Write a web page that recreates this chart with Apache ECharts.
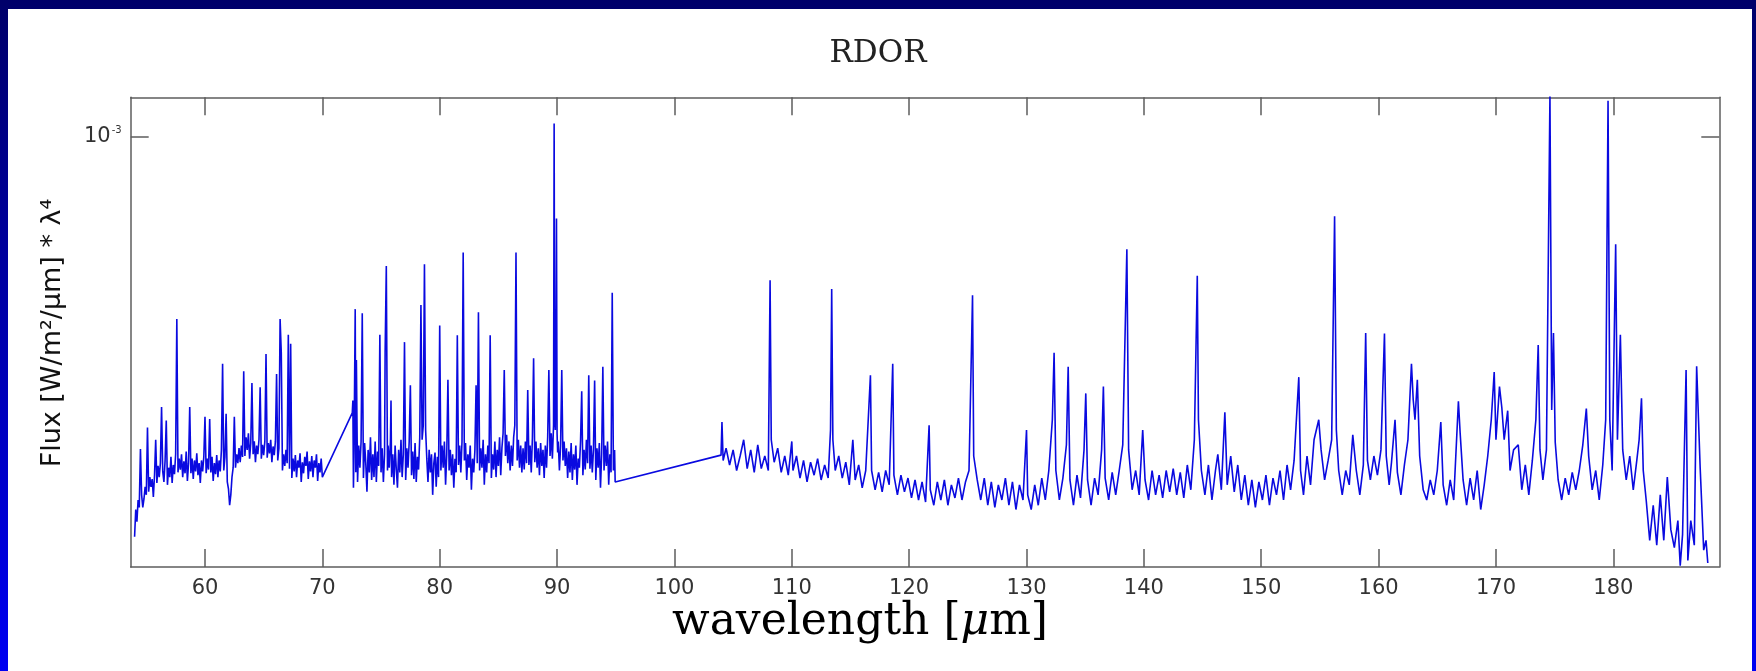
<!DOCTYPE html>
<html><head><meta charset="utf-8">
<script src="https://cdn.jsdelivr.net/npm/echarts@6/dist/echarts.min.js"></script>
<style>
html,body{margin:0;padding:0;width:1756px;height:671px;overflow:hidden;
background:linear-gradient(to bottom,#00006a 0%,#0000f2 100%);}
#panel{position:absolute;left:8px;top:9px;width:1744px;height:662px;background:#fff;}
#chart{position:absolute;left:0;top:0;width:1756px;height:671px;}
</style></head><body><div id="panel"></div><div id="chart"></div>
<script>
// wavelength [um], flux
const seg1 = [
[54.0,2.24e-4],[54.1,2.48e-4],[54.2,2.37e-4],[54.3,2.57e-4],[54.4,2.50e-4],[54.5,3.11e-4],[54.6,2.62e-4],[54.7,2.50e-4],[54.8,2.58e-4],[54.9,2.70e-4],
[55.0,2.62e-4],[55.1,3.37e-4],[55.2,2.65e-4],[55.3,2.80e-4],[55.4,2.70e-4],[55.5,2.78e-4],[55.6,2.60e-4],[55.7,2.82e-4],[55.8,3.22e-4],[55.9,2.74e-4],
[56.0,2.92e-4],[56.1,2.80e-4],[56.2,2.95e-4],[56.3,3.64e-4],[56.4,2.86e-4],[56.5,2.75e-4],[56.6,2.98e-4],[56.7,3.46e-4],[56.8,2.72e-4],[56.9,2.90e-4],
[57.0,2.80e-4],[57.1,3.02e-4],[57.2,2.74e-4],[57.3,2.93e-4],[57.4,2.83e-4],[57.5,3.05e-4],[57.6,5.06e-4],[57.7,2.85e-4],[57.8,3.00e-4],[57.9,2.88e-4],
[58.0,3.05e-4],[58.1,2.80e-4],[58.2,2.97e-4],[58.3,2.84e-4],[58.4,3.08e-4],[58.5,2.76e-4],[58.6,2.95e-4],[58.7,3.64e-4],[58.8,2.84e-4],[58.9,3.00e-4],
[59.0,2.78e-4],[59.1,2.98e-4],[59.2,2.86e-4],[59.3,3.06e-4],[59.4,2.82e-4],[59.5,2.95e-4],[59.6,2.74e-4],[59.7,2.98e-4],[59.8,2.86e-4],[59.9,3.02e-4],
[60.0,3.51e-4],[60.1,2.84e-4],[60.2,3.00e-4],[60.3,2.88e-4],[60.4,3.48e-4],[60.5,2.85e-4],[60.6,3.02e-4],[60.7,2.76e-4],[60.8,2.95e-4],[60.9,2.83e-4],
[61.0,3.04e-4],[61.1,2.80e-4],[61.2,2.98e-4],[61.3,2.86e-4],[61.4,3.10e-4],[61.5,4.28e-4],[61.6,2.87e-4],[61.7,3.02e-4],[61.8,3.55e-4],[61.9,2.75e-4],
[62.0,2.68e-4],[62.1,2.52e-4],[62.2,2.62e-4],[62.3,2.80e-4],[62.4,2.90e-4],[62.5,3.51e-4],[62.6,2.90e-4],[62.7,3.05e-4],[62.8,2.95e-4],[62.9,3.12e-4],
[63.0,2.96e-4],[63.1,3.15e-4],[63.2,3.02e-4],[63.3,4.16e-4],[63.4,3.03e-4],[63.5,3.25e-4],[63.6,3.10e-4],[63.7,3.30e-4],[63.8,3.00e-4],[63.9,3.18e-4],
[64.0,3.98e-4],[64.1,3.05e-4],[64.2,3.20e-4],[64.3,2.96e-4],[64.4,3.15e-4],[64.5,3.05e-4],[64.6,3.22e-4],[64.7,3.92e-4],[64.8,3.00e-4],[64.9,3.16e-4],
[65.0,3.04e-4],[65.1,3.20e-4],[65.2,4.44e-4],[65.3,3.01e-4],[65.4,3.18e-4],[65.5,3.06e-4],[65.6,3.22e-4],[65.7,2.96e-4],[65.8,3.14e-4],[65.9,3.04e-4],
[66.0,3.20e-4],[66.1,4.12e-4],[66.2,2.98e-4],[66.3,3.12e-4],[66.4,5.06e-4],[66.5,4.46e-4],[66.6,2.87e-4],[66.7,3.05e-4],[66.8,2.92e-4],[66.9,3.10e-4],
[67.0,2.95e-4],[67.1,4.77e-4],[67.2,2.89e-4],[67.3,4.61e-4],[67.4,2.79e-4],[67.5,3.00e-4],[67.6,2.86e-4],[67.7,3.04e-4],[67.8,2.80e-4],[67.9,2.98e-4],
[68.0,2.90e-4],[68.1,3.06e-4],[68.2,2.75e-4],[68.3,2.96e-4],[68.4,2.84e-4],[68.5,3.02e-4],[68.6,2.92e-4],[68.7,3.08e-4],[68.8,2.78e-4],[68.9,2.97e-4],
[69.0,2.86e-4],[69.1,3.03e-4],[69.2,2.80e-4],[69.3,2.98e-4],[69.4,2.90e-4],[69.5,3.05e-4],[69.6,2.76e-4],[69.7,2.95e-4],[69.8,2.85e-4],[69.9,3.00e-4],
[70.0,2.80e-4]
];
const seg2 = [
[72.55,3.56e-4],[72.60,3.73e-4],[72.65,2.69e-4],[72.70,3.10e-4],[72.80,5.25e-4],[72.85,2.85e-4],[72.90,4.34e-4],[73.00,2.75e-4],[73.10,3.15e-4],[73.20,2.90e-4],
[73.30,3.20e-4],[73.40,5.17e-4],[73.50,2.79e-4],[73.60,3.18e-4],[73.70,2.95e-4],[73.80,2.65e-4],[73.90,3.10e-4],[74.00,2.85e-4],[74.10,3.25e-4],[74.20,2.77e-4],
[74.30,3.05e-4],[74.40,2.80e-4],[74.50,3.20e-4],[74.60,2.75e-4],[74.70,3.08e-4],[74.80,2.92e-4],[74.90,4.77e-4],[75.00,2.85e-4],[75.10,3.12e-4],[75.20,2.75e-4],
[75.30,3.05e-4],[75.35,4.47e-4],[75.45,6.17e-4],[75.55,2.87e-4],[75.60,3.15e-4],[75.70,2.90e-4],[75.80,3.20e-4],[75.85,3.73e-4],[75.90,2.80e-4],[76.00,3.05e-4],
[76.10,2.72e-4],[76.20,3.15e-4],[76.30,2.88e-4],[76.40,2.69e-4],[76.50,3.10e-4],[76.60,2.85e-4],[76.70,3.22e-4],[76.80,2.80e-4],[76.90,3.05e-4],[77.00,4.64e-4],
[77.10,2.77e-4],[77.20,3.12e-4],[77.30,2.90e-4],[77.40,3.20e-4],[77.50,3.95e-4],[77.60,2.82e-4],[77.70,3.08e-4],[77.80,2.78e-4],[77.90,3.18e-4],[78.00,2.75e-4],
[78.10,3.02e-4],[78.20,2.88e-4],[78.30,3.25e-4],[78.40,5.33e-4],[78.50,3.22e-4],[78.60,3.40e-4],[78.70,6.21e-4],[78.80,3.34e-4],[78.90,3.00e-4],[79.00,2.75e-4],
[79.10,3.10e-4],[79.20,2.85e-4],[79.30,3.05e-4],[79.40,2.62e-4],[79.50,2.95e-4],[79.60,3.07e-4],[79.70,2.70e-4],[79.80,3.02e-4],[79.90,2.80e-4],[80.00,4.94e-4],
[80.10,2.87e-4],[80.20,3.15e-4],[80.30,2.90e-4],[80.40,3.20e-4],[80.50,2.72e-4],[80.60,3.05e-4],[80.70,4.03e-4],[80.80,2.87e-4],[80.90,3.10e-4],[81.00,2.82e-4],
[81.10,3.05e-4],[81.20,2.69e-4],[81.30,3.00e-4],[81.40,2.85e-4],[81.50,4.76e-4],[81.60,2.93e-4],[81.70,3.15e-4],[81.80,2.85e-4],[81.90,3.20e-4],[82.00,6.49e-4],
[82.10,2.98e-4],[82.20,3.18e-4],[82.30,2.77e-4],[82.40,3.05e-4],[82.50,2.90e-4],[82.60,3.15e-4],[82.70,2.67e-4],[82.80,3.00e-4],[82.90,2.85e-4],[83.00,3.10e-4],
[83.10,3.95e-4],[83.20,2.95e-4],[83.30,5.19e-4],[83.40,2.87e-4],[83.50,3.12e-4],[83.60,2.90e-4],[83.70,3.22e-4],[83.80,2.72e-4],[83.90,3.05e-4],[84.00,2.85e-4],
[84.10,3.15e-4],[84.20,2.95e-4],[84.30,4.76e-4],[84.40,2.79e-4],[84.50,3.05e-4],[84.60,2.88e-4],[84.70,3.20e-4],[84.80,2.80e-4],[84.90,3.10e-4],[85.00,2.92e-4],
[85.10,3.25e-4],[85.20,2.82e-4],[85.30,3.12e-4],[85.40,3.30e-4],[85.50,4.18e-4],[85.60,3.03e-4],[85.70,3.28e-4],[85.80,2.95e-4],[85.90,3.20e-4],[86.00,2.87e-4],
[86.10,3.15e-4],[86.20,2.92e-4],[86.30,3.25e-4],[86.40,3.40e-4],[86.50,6.49e-4],[86.60,2.98e-4],[86.70,3.22e-4],[86.80,2.90e-4],[86.90,3.15e-4],[87.00,2.85e-4],
[87.10,3.12e-4],[87.20,2.88e-4],[87.30,3.20e-4],[87.40,2.95e-4],[87.50,3.88e-4],[87.60,2.93e-4],[87.70,3.15e-4],[87.80,2.85e-4],[87.90,3.25e-4],[88.00,4.37e-4],
[88.10,2.96e-4],[88.20,3.20e-4],[88.30,2.90e-4],[88.40,3.12e-4],[88.50,2.82e-4],[88.60,3.18e-4],[88.70,2.92e-4],[88.80,3.10e-4],[88.90,2.79e-4],[89.00,3.15e-4],
[89.10,2.90e-4],[89.20,3.25e-4],[89.30,4.18e-4],[89.40,3.03e-4],[89.50,3.30e-4],[89.60,3.00e-4],[89.70,3.40e-4],[89.75,10.52e-4],[89.80,3.50e-4],[89.85,3.34e-4],
[89.90,4.20e-4],[89.95,7.37e-4],[90.00,3.30e-4],[90.05,3.07e-4],[90.10,3.20e-4],[90.20,2.87e-4],[90.30,3.15e-4],[90.40,4.18e-4],[90.50,2.98e-4],[90.60,3.20e-4],
[90.70,2.92e-4],[90.80,3.12e-4],[90.90,2.79e-4],[91.00,3.08e-4],[91.10,2.85e-4],[91.20,3.18e-4],[91.30,2.77e-4],[91.40,3.05e-4],[91.50,2.88e-4],[91.60,3.15e-4],
[91.70,2.72e-4],[91.80,3.00e-4],[91.90,2.90e-4],[92.00,3.20e-4],[92.10,3.86e-4],[92.20,2.82e-4],[92.30,3.10e-4],[92.40,2.88e-4],[92.50,3.22e-4],[92.60,2.95e-4],
[92.70,4.10e-4],[92.80,2.89e-4],[92.90,3.15e-4],[93.00,2.85e-4],[93.10,3.10e-4],[93.20,4.02e-4],[93.30,2.77e-4],[93.40,3.12e-4],[93.50,2.90e-4],[93.60,3.18e-4],
[93.70,2.69e-4],[93.80,3.05e-4],[93.90,4.23e-4],[94.00,2.87e-4],[94.10,3.15e-4],[94.20,2.92e-4],[94.30,3.20e-4],[94.40,2.72e-4],[94.50,3.05e-4],[94.60,2.85e-4],
[94.70,5.58e-4],[94.80,2.87e-4],[94.90,3.10e-4],[94.95,2.75e-4]
];
const seg3 = [
[103.97,3.04e-4],[104.05,3.44e-4],[104.15,2.98e-4],[104.40,3.12e-4],[104.70,2.93e-4],[105.00,3.10e-4],[105.30,2.87e-4],[105.60,3.03e-4],
[105.90,3.22e-4],[106.20,2.89e-4],[106.50,3.10e-4],[106.80,2.85e-4],[107.10,3.16e-4],[107.40,2.89e-4],[107.70,3.03e-4],[108.00,2.87e-4],
[108.15,5.85e-4],[108.25,3.22e-4],[108.50,2.96e-4],[108.80,3.12e-4],[109.10,2.85e-4],[109.40,3.03e-4],[109.70,2.82e-4],[110.00,3.20e-4],
[110.10,2.87e-4],[110.40,3.03e-4],[110.70,2.79e-4],[111.00,2.98e-4],[111.30,2.75e-4],[111.60,2.96e-4],[111.90,2.82e-4],[112.20,3.00e-4],
[112.50,2.77e-4],[112.80,2.93e-4],[113.10,2.79e-4],[113.30,3.34e-4],[113.40,5.66e-4],[113.50,3.22e-4],[113.70,2.87e-4],[114.00,3.03e-4],
[114.30,2.79e-4],[114.60,2.96e-4],[114.90,2.72e-4],[115.20,3.22e-4],[115.40,2.77e-4],[115.70,2.93e-4],[116.00,2.69e-4],[116.30,2.87e-4],
[116.70,4.10e-4],[116.80,2.87e-4],[117.10,2.67e-4],[117.40,2.85e-4],[117.70,2.65e-4],[118.00,2.87e-4],[118.30,2.72e-4],[118.60,4.28e-4],
[118.70,2.82e-4],[119.00,2.62e-4],[119.30,2.82e-4],[119.60,2.65e-4],[119.90,2.79e-4],[120.20,2.59e-4],[120.50,2.77e-4],[120.80,2.57e-4],
[121.10,2.75e-4],[121.40,2.55e-4],[121.70,3.40e-4],[121.80,2.67e-4],[122.10,2.52e-4],[122.40,2.75e-4],[122.70,2.57e-4],[123.00,2.77e-4],
[123.30,2.52e-4],[123.60,2.72e-4],[123.90,2.59e-4],[124.20,2.79e-4],[124.50,2.57e-4],[124.80,2.75e-4],[125.10,2.87e-4],[125.40,5.53e-4],
[125.50,3.03e-4],[125.80,2.77e-4],[126.10,2.57e-4],[126.40,2.79e-4],[126.70,2.52e-4],[127.00,2.75e-4],[127.30,2.50e-4],[127.60,2.72e-4],
[127.90,2.57e-4],[128.20,2.79e-4],[128.50,2.52e-4],[128.80,2.75e-4],[129.10,2.48e-4],[129.40,2.72e-4],[129.70,2.57e-4],[130.00,3.34e-4],
[130.10,2.62e-4],[130.40,2.48e-4],[130.70,2.72e-4],[131.00,2.52e-4],[131.30,2.79e-4],[131.60,2.57e-4],[131.90,2.87e-4],[132.20,3.47e-4],
[132.35,4.46e-4],[132.50,2.87e-4],[132.80,2.57e-4],[133.10,2.79e-4],[133.40,3.16e-4],[133.55,4.23e-4],[133.70,2.77e-4],[134.00,2.52e-4],
[134.30,2.82e-4],[134.60,2.59e-4],[134.90,3.10e-4],[135.05,3.83e-4],[135.20,2.77e-4],[135.50,2.52e-4],[135.80,2.79e-4],[136.10,2.62e-4],
[136.40,3.10e-4],[136.55,3.93e-4],[136.70,2.79e-4],[137.00,2.57e-4],[137.30,2.85e-4],[137.60,2.62e-4],[137.90,2.87e-4],[138.20,3.16e-4],
[138.55,6.57e-4],[138.70,3.10e-4],[139.00,2.67e-4],[139.30,2.87e-4],[139.60,2.62e-4],[139.90,3.34e-4],[140.10,2.77e-4],[140.40,2.57e-4],
[140.70,2.87e-4],[141.00,2.62e-4],[141.30,2.82e-4],[141.60,2.59e-4],[141.90,2.87e-4],[142.20,2.65e-4],[142.50,2.89e-4],[142.80,2.62e-4],
[143.10,2.85e-4],[143.40,2.59e-4],[143.70,2.93e-4],[144.00,2.67e-4],[144.30,3.22e-4],[144.55,5.95e-4],[144.65,3.47e-4],[144.90,2.87e-4],
[145.20,2.62e-4],[145.50,2.93e-4],[145.80,2.57e-4],[146.10,2.87e-4],[146.30,3.05e-4],[146.60,2.67e-4],[146.90,3.57e-4],[147.10,2.72e-4],
[147.40,3.03e-4],[147.70,2.65e-4],[148.00,2.93e-4],[148.30,2.57e-4],[148.60,2.82e-4],[148.90,2.52e-4],[149.20,2.77e-4],[149.50,2.50e-4],
[149.80,2.75e-4],[150.10,2.57e-4],[150.40,2.82e-4],[150.70,2.52e-4],[151.00,2.79e-4],[151.30,2.62e-4],[151.60,2.87e-4],[151.90,2.57e-4],
[152.20,2.93e-4],[152.50,2.67e-4],[152.80,2.98e-4],[153.20,4.07e-4],[153.35,2.87e-4],[153.60,2.62e-4],[153.90,3.03e-4],[154.20,2.72e-4],
[154.50,3.22e-4],[154.90,3.47e-4],[155.10,3.10e-4],[155.40,2.77e-4],[155.70,2.98e-4],[156.00,3.22e-4],[156.25,7.43e-4],[156.40,3.34e-4],
[156.60,2.87e-4],[156.90,2.62e-4],[157.20,2.87e-4],[157.50,2.72e-4],[157.80,3.28e-4],[158.10,2.87e-4],[158.40,2.62e-4],[158.70,2.93e-4],
[158.90,4.80e-4],[159.05,2.98e-4],[159.30,2.77e-4],[159.60,3.03e-4],[159.90,2.82e-4],[160.20,3.10e-4],[160.50,4.79e-4],[160.65,3.03e-4],
[160.90,2.72e-4],[161.10,2.96e-4],[161.40,3.47e-4],[161.60,2.85e-4],[161.90,2.62e-4],[162.20,2.93e-4],[162.50,3.22e-4],[162.80,4.28e-4],
[162.95,3.74e-4],[163.10,3.47e-4],[163.30,4.03e-4],[163.50,3.03e-4],[163.80,2.67e-4],[164.10,2.57e-4],[164.40,2.77e-4],[164.70,2.62e-4],
[165.00,2.87e-4],[165.30,3.44e-4],[165.50,2.72e-4],[165.80,2.52e-4],[166.10,2.77e-4],[166.40,2.57e-4],[166.80,3.72e-4],[166.95,3.30e-4],
[167.20,2.77e-4],[167.50,2.52e-4],[167.80,2.79e-4],[168.10,2.57e-4],[168.40,2.87e-4],[168.70,2.48e-4],[169.00,2.72e-4],[169.30,3.03e-4],
[169.60,3.47e-4],[169.85,4.15e-4],[170.00,3.22e-4],[170.30,3.93e-4],[170.50,3.63e-4],[170.70,3.22e-4],[171.00,3.59e-4],[171.20,2.87e-4],
[171.50,3.10e-4],[171.90,3.16e-4],[172.20,2.67e-4],[172.50,2.93e-4],[172.80,2.62e-4],[173.10,2.98e-4],[173.40,3.47e-4],[173.60,4.59e-4],
[173.75,3.10e-4],[174.00,2.77e-4],[174.30,3.10e-4],[174.60,11.70e-4],[174.75,3.60e-4],[174.90,4.80e-4],[175.05,3.19e-4],[175.30,2.77e-4],
[175.60,2.57e-4],[175.90,2.79e-4],[176.20,2.62e-4],[176.50,2.85e-4],[176.80,2.67e-4],[177.10,2.87e-4],[177.40,3.16e-4],[177.70,3.62e-4],
[177.90,3.03e-4],[178.20,2.67e-4],[178.50,2.87e-4],[178.80,2.57e-4],[179.10,2.93e-4],[179.35,3.47e-4],[179.55,11.45e-4],[179.70,3.47e-4],
[179.90,2.87e-4],[180.20,6.69e-4],[180.35,3.22e-4],[180.60,4.77e-4],[180.80,3.10e-4],[181.10,2.77e-4],[181.40,3.03e-4],[181.70,2.67e-4],
[182.00,2.98e-4],[182.20,3.22e-4],[182.40,3.76e-4],[182.55,2.87e-4],[182.80,2.57e-4],[183.10,2.21e-4],[183.40,2.52e-4],[183.70,2.17e-4],
[184.00,2.62e-4],[184.30,2.21e-4],[184.60,2.80e-4],[184.90,2.30e-4],[185.20,2.15e-4],[185.50,2.38e-4],[185.70,2.01e-4],[185.90,2.26e-4],
[186.20,4.18e-4],[186.35,2.05e-4],[186.60,2.38e-4],[186.90,2.17e-4],[187.10,4.24e-4],[187.40,2.90e-4],[187.70,2.13e-4],[187.90,2.21e-4],
[188.05,2.03e-4]
];
const spectrum = seg1.concat(seg2, seg3);
const xTicks = [60,70,80,90,100,110,120,130,140,150,160,170,180];
const yTicks = [1e-3];
const xRange = [53.67, 189.03];
const yRange = [2.0e-4, 1.16e-3];

const axisColor = '#5e5e5e';
const chart = echarts.init(document.getElementById('chart'), null, {renderer:'canvas'});
function xAx(pos, showLabel){
  return {type:'value', min:xRange[0], max:xRange[1], position:pos,
    axisLine:{show:true, onZero:false, lineStyle:{color:axisColor, width:1.5}},
    axisTick:{show:true, inside:true, length:18, customValues:xTicks, lineStyle:{color:axisColor, width:1.5}},
    axisLabel:{show:showLabel, customValues:xTicks, margin:11, color:'#333', fontSize:21, fontFamily:'DejaVu Sans'},
    splitLine:{show:false}};
}
function yAx(pos, showLabel){
  return {type:'log', logBase:10, min:yRange[0], max:yRange[1], position:pos,
    axisLine:{show:true, onZero:false, lineStyle:{color:axisColor, width:1.5}},
    axisTick:{show:true, inside:true, length:18, customValues:yTicks, lineStyle:{color:axisColor, width:1.5}},
    axisLabel:{show:showLabel, customValues:yTicks, margin:9, color:'#333',
      formatter: v => (Math.abs(Math.log10(v) + 3) < 1e-6 ? '{b|10}{s|-3}' : ''),
      rich:{b:{fontSize:21, fontFamily:'DejaVu Sans', color:'#333', lineHeight:24},
            s:{fontSize:10, fontFamily:'DejaVu Sans', color:'#333', verticalAlign:'top', lineHeight:24, padding:[0,0,10,1]}}},
    splitLine:{show:false}, minorTick:{show:false}};
}
chart.setOption({
  animation:false,
  backgroundColor:'transparent',
  grid:{left:130.7, right:36.7, top:97.3, bottom:104},
  xAxis:[xAx('bottom', true), xAx('top', false)],
  yAxis:[yAx('left', true), yAx('right', false)],
  series:[{type:'line', data:spectrum, xAxisIndex:0, yAxisIndex:0, showSymbol:false, symbol:'none',
    clip:true, lineStyle:{color:'#0a0ae0', width:1.6}}],
  graphic:[
    {type:'text', x:878, y:54, style:{text:'RDOR', font:'31px "DejaVu Serif"', fill:'#222', align:'center', verticalAlign:'middle'}},
    {type:'text', x:860, y:623, style:{text:'{n|wavelength [}{i|\u03BC}{n|m]}', align:'center', verticalAlign:'middle',
      rich:{n:{fontSize:44, fontFamily:'DejaVu Serif', color:'#222'}, i:{fontSize:44, fontFamily:'DejaVu Serif', fontStyle:'italic', color:'#222'}}}},
    {type:'text', x:53, y:333, rotation:Math.PI/2, style:{text:'Flux [W/m\u00B2/\u03BCm] * \u03BB\u2074', font:'27px "DejaVu Sans"', fill:'#111', align:'center', verticalAlign:'middle'}}
  ]
});
</script></body></html>
